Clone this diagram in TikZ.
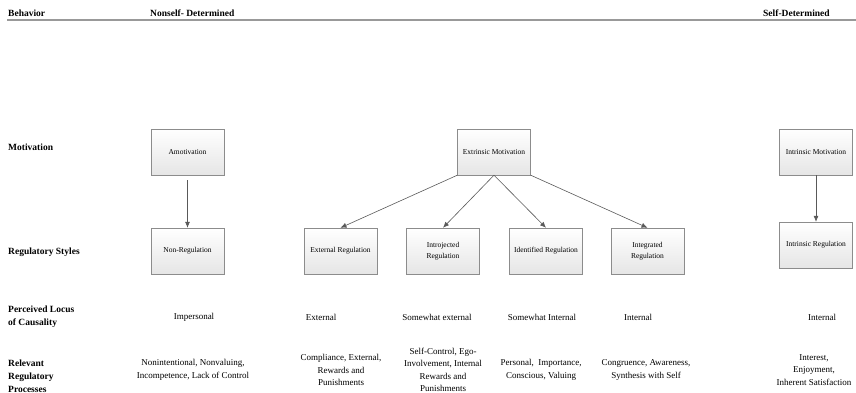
\documentclass[tikz,border=0pt]{standalone}
\usepackage{fontspec}
\setmainfont{Liberation Serif}
\usepackage{tikz}
\usetikzlibrary{arrows, arrows.meta, positioning, shapes, calc}
\tikzset{
	every node/.style={
		align=center,
	},
}
\tikzstyle{regbox} = [draw=black!45, top color=white, bottom color=black!10, minimum width=73pt, minimum height=46pt, inner sep=2pt, font=\fontsize{7.5}{11}\selectfont]
\tikzstyle{rowlabel} = [anchor=west, inner sep=0pt, align=left, font=\fontsize{9.5}{13}\selectfont\bfseries]
\tikzstyle{celltext} = [inner sep=0pt, font=\fontsize{9}{12.5}\selectfont]
\tikzstyle{flow} = [draw=black!65, line width=0.6pt, -{Latex[length=6pt,width=5pt]}]

\begin{document}
\begin{tikzpicture}[x=1pt, y=-1pt]
		\useasboundingbox (0,0) rectangle (856,393);
		
		% header
		\node[rowlabel] (behav) at (8,13) {Behavior};
		\node[rowlabel] (nonself) at (150,13) {Nonself- Determined};
		\node[rowlabel] (selfdet) at (763,13) {Self-Determined};
		\coordinate (hl) at (7,20);
		\coordinate (hr) at (856,20);
		\draw[black!40, line width=2pt] (hl) -- (hr);
		
		% row labels
		\node[rowlabel] (motiv) at (8,147) {Motivation};
		\node[rowlabel] (regstyles) at (8,252) {Regulatory Styles};
		\node[rowlabel] (locus) at (8,317) {Perceived Locus\\of Causality};
		\node[rowlabel] (procs) at (8,376) {Relevant\\Regulatory\\Processes};
		
		% motivation boxes
		\node[regbox] (amot) at (187.5,152) {Amotivation};
		\node[regbox] (extmot) at (494,152) {Extrinsic Motivation};
		\node[regbox] (intmot) at (816,152) {Intrinsic Motivation};
		
		% regulatory styles
		\node[regbox] (nonreg) at (187.5,251) {Non-Regulation};
		\node[regbox] (extreg) at (340.5,251) {External Regulation};
		\node[regbox] (introreg) at (443,251) {Introjected\\Regulation};
		\node[regbox] (identreg) at (546,251) {Identified Regulation};
		\node[regbox] (integreg) at (647.5,251) {Integrated\\Regulation};
		\node[regbox] (intreg) at (816,245) {Intrinsic Regulation};
		
		\draw[flow] ([yshift=-5pt]amot.south) -- (nonreg.north);
		\draw[flow] (extmot.south west) -- (extreg.north);
		\draw[flow] (extmot.south) -- (introreg.north);
		\draw[flow] (extmot.south) -- (identreg.north);
		\draw[flow] (extmot.south east) -- (integreg.north);
		\draw[flow] (intmot.south) -- (intreg.north);
		
		% perceived locus of causality
		\node[celltext] (loc-imp) at (194,317) {Impersonal};
		\node[celltext] (loc-ext) at (321,317) {External};
		\node[celltext] (loc-swe) at (437,317) {Somewhat external};
		\node[celltext] (loc-swi) at (542,317) {Somewhat Internal};
		\node[celltext] (loc-int) at (638,317) {Internal};
		\node[celltext] (loc-intr) at (822,317) {Internal};
		
		% relevant regulatory processes
		\node[celltext] (pr-amot) at (193,370) {Nonintentional, Nonvaluing,\\Incompetence, Lack of Control};
		\node[celltext] (pr-ext) at (341,370) {Compliance, External,\\Rewards and\\Punishments};
		\node[celltext] (pr-intro) at (443,370) {Self-Control, Ego-\\Involvement, Internal\\Rewards and\\Punishments};
		\node[celltext] (pr-ident) at (541,370) {Personal,~ Importance,\\Conscious, Valuing};
		\node[celltext] (pr-integ) at (646,370) {Congruence, Awareness,\\Synthesis with Self};
		\node[celltext] (pr-intr) at (814,370) {Interest,\\Enjoyment,\\Inherent Satisfaction};
		
	\end{tikzpicture}
\end{document}
